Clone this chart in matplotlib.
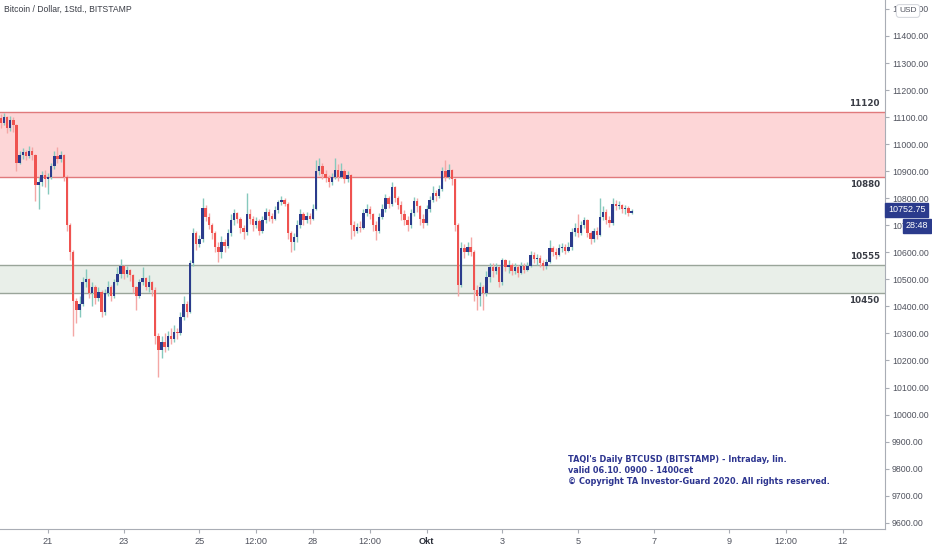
import pandas as pd
import matplotlib
matplotlib.use("Agg")
import matplotlib.pyplot as plt
import matplotlib.dates as mdates
from matplotlib.transforms import blended_transform_factory

# 2-hour candles, BTCUSD Bitstamp
start_time = "2020-09-19 18:00"
first_open = 11095

closes = [11080, 11100, 11060, 11090, 11070, 10930, 10960, 10970, 10955, 10975,
          10960, 10850, 10860, 10885, 10870, 10880, 10920, 10955, 10945, 10960,
          10880, 10700, 10600, 10420, 10385, 10410, 10490, 10500, 10450, 10470,
          10430, 10455, 10380, 10450, 10470, 10440, 10490, 10520, 10550, 10520,
          10535, 10515, 10470, 10440, 10490, 10505, 10470, 10490, 10460, 10290,
          10240, 10270, 10250, 10290, 10280, 10305, 10300, 10360, 10410, 10380,
          10560, 10670, 10630, 10650, 10765, 10730, 10700, 10670, 10620, 10600,
          10640, 10625, 10670, 10720, 10745, 10725, 10690, 10675, 10740, 10725,
          10700, 10715, 10680, 10720, 10750, 10735, 10725, 10755, 10785, 10795,
          10780, 10670, 10640, 10655, 10700, 10740, 10720, 10735, 10725, 10760,
          10900, 10920, 10890, 10875, 10860, 10880, 10905, 10880, 10900, 10870,
          10885, 10700, 10680, 10695, 10690, 10745, 10760, 10740, 10700, 10680,
          10730, 10760, 10800, 10780, 10840, 10800, 10775, 10740, 10720, 10700,
          10745, 10790, 10770, 10725, 10710, 10760, 10795, 10820, 10810, 10835,
          10900, 10880, 10905, 10870, 10700, 10480, 10615, 10600, 10620, 10600,
          10460, 10440, 10470, 10450, 10510, 10545, 10530, 10545, 10490, 10570,
          10545, 10555, 10530, 10545, 10525, 10550, 10535, 10550, 10590, 10575,
          10580, 10560, 10550, 10565, 10615, 10600, 10590, 10615, 10620, 10605,
          10620, 10675, 10690, 10670, 10700, 10720, 10670, 10650, 10680, 10665,
          10730, 10750, 10720, 10710, 10780, 10770, 10775, 10760, 10765, 10745,
          10752.75]

highs = [11110, 11115, 11105, 11105, 11100, 11075, 10975, 10985, 10980, 10995,
         10990, 10965, 10880, 10900, 10905, 10895, 10930, 10975, 10990, 10975,
         10965, 10885, 10710, 10610, 10430, 10440, 10510, 10540, 10505, 10490,
         10480, 10470, 10460, 10465, 10495, 10480, 10500, 10545, 10575, 10555,
         10550, 10540, 10520, 10475, 10500, 10545, 10510, 10515, 10495, 10470,
         10300, 10290, 10300, 10310, 10320, 10330, 10320, 10380, 10440, 10420,
         10570, 10690, 10680, 10665, 10800, 10775, 10745, 10710, 10680, 10640,
         10660, 10650, 10685, 10740, 10760, 10750, 10730, 10700, 10820, 10760,
         10735, 10730, 10725, 10735, 10765, 10760, 10745, 10770, 10795, 10810,
         10800, 10785, 10680, 10670, 10720, 10760, 10750, 10750, 10745, 10780,
         10940, 10950, 10930, 10905, 10885, 10895, 10950, 10925, 10930, 10910,
         10900, 10890, 10715, 10710, 10715, 10760, 10780, 10770, 10745, 10715,
         10745, 10780, 10815, 10810, 10860, 10845, 10810, 10790, 10755, 10735,
         10760, 10805, 10800, 10775, 10740, 10775, 10810, 10845, 10830, 10850,
         10915, 10940, 10925, 10910, 10875, 10710, 10640, 10630, 10640, 10655,
         10610, 10480, 10490, 10480, 10530, 10560, 10560, 10560, 10550, 10580,
         10575, 10570, 10560, 10560, 10555, 10565, 10560, 10565, 10605, 10600,
         10595, 10590, 10570, 10575, 10645, 10625, 10615, 10630, 10635, 10630,
         10640, 10690, 10710, 10740, 10715, 10730, 10725, 10680, 10690, 10695,
         10800, 10770, 10760, 10735, 10800, 10795, 10790, 10780, 10775, 10770,
         10760]

lows = [11060, 11070, 11040, 11050, 11045, 10900, 10925, 10945, 10940, 10950,
        10940, 10790, 10760, 10845, 10840, 10815, 10870, 10910, 10930, 10935,
        10865, 10680, 10570, 10290, 10340, 10360, 10400, 10470, 10430, 10400,
        10410, 10420, 10360, 10370, 10440, 10420, 10430, 10480, 10505, 10500,
        10510, 10495, 10450, 10385, 10430, 10480, 10460, 10455, 10440, 10260,
        10140, 10210, 10230, 10240, 10260, 10270, 10280, 10295, 10350, 10360,
        10375, 10550, 10610, 10620, 10640, 10715, 10685, 10650, 10600, 10565,
        10580, 10600, 10615, 10660, 10700, 10710, 10670, 10650, 10665, 10705,
        10680, 10690, 10665, 10670, 10710, 10715, 10710, 10720, 10745, 10775,
        10770, 10650, 10600, 10610, 10640, 10690, 10700, 10710, 10705, 10720,
        10755, 10885, 10870, 10860, 10840, 10850, 10870, 10865, 10875, 10855,
        10860, 10650, 10660, 10670, 10675, 10685, 10735, 10725, 10680, 10645,
        10670, 10725, 10750, 10765, 10770, 10785, 10760, 10720, 10700, 10680,
        10690, 10735, 10750, 10700, 10690, 10700, 10750, 10785, 10790, 10800,
        10825, 10865, 10870, 10850, 10680, 10440, 10470, 10580, 10590, 10585,
        10420, 10385, 10400, 10385, 10440, 10490, 10510, 10520, 10470, 10480,
        10530, 10525, 10515, 10520, 10510, 10520, 10525, 10530, 10545, 10560,
        10555, 10545, 10535, 10540, 10560, 10585, 10575, 10585, 10600, 10595,
        10600, 10610, 10660, 10655, 10665, 10690, 10655, 10630, 10640, 10650,
        10660, 10720, 10705, 10695, 10700, 10755, 10760, 10745, 10740, 10735,
        10740]

resist_zone = (10880, 11120)
support_zone = (10450, 10555)

price_ticks = list(range(9600, 11600, 100))
date_ticks = ["2020-09-21 00:00", "2020-09-23 00:00", "2020-09-25 00:00", "2020-09-26 12:00",
              "2020-09-28 00:00", "2020-09-29 12:00", "2020-10-01 00:00", "2020-10-03 00:00",
              "2020-10-05 00:00", "2020-10-07 00:00", "2020-10-09 00:00", "2020-10-10 12:00",
              "2020-10-12 00:00"]
date_labels = ["21", "23", "25", "12:00", "28", "12:00", "Okt", "3", "5", "7", "9", "12:00", "12"]

# colours
up_col = "#2b3b8c"
down_col = "#ef5350"
up_wick = "#86c9bd"
down_wick = "#f4a7a5"
axis_col = "#a9adb5"
label_col = "#50535e"

times = pd.date_range(start_time, periods=len(closes), freq="2h")
x = mdates.date2num(times)
opens = [first_open] + closes[:-1]

fig = plt.figure(figsize=(9.32, 5.5), dpi=100)
ax = fig.add_axes([0, 21 / 550, 885 / 932, 529 / 550])

t21 = mdates.date2num(pd.Timestamp("2020-09-21"))
ax.set_xlim(t21 - 48 / 37.85, t21 + 837 / 37.85)
ax.set_ylim(11400 - (529 - 36) * 3.698, 11400 + 36 * 3.698)

# zones
ax.axhspan(resist_zone[0], resist_zone[1], color="#fdd6d7", zorder=0, lw=0)
ax.axhline(resist_zone[0], color="#e07a7c", lw=1, zorder=1)
ax.axhline(resist_zone[1], color="#e07a7c", lw=1, zorder=1)
ax.axhspan(support_zone[0], support_zone[1], color="#e9efe9", zorder=0, lw=0)
ax.axhline(support_zone[0], color="#9aa59a", lw=1, zorder=1)
ax.axhline(support_zone[1], color="#9aa59a", lw=1, zorder=1)

# candles
w = 0.064
for xi, o, h, l, c in zip(x, opens, highs, lows, closes):
    up = c >= o
    ax.vlines(xi, l, h, color=up_wick if up else down_wick, lw=1.0, zorder=2)
    body = max(abs(c - o), 4)
    ax.bar(xi, body, bottom=min(o, c), width=w, color=up_col if up else down_col,
           lw=0, zorder=3)

# zone labels
tr = blended_transform_factory(ax.transAxes, ax.transData)
for val, va in [(11120, "bottom"), (10880, "top"), (10555, "bottom"), (10450, "top")]:
    ax.text(0.994, val + (12 if va == "bottom" else -12), str(val), transform=tr,
            ha="right", va=va, fontsize=6.3, fontweight="bold", color="#3a3d46",
            family="DejaVu Sans")

# axes styling
for s in ["top", "left"]:
    ax.spines[s].set_visible(False)
ax.spines["right"].set_color(axis_col)
ax.spines["bottom"].set_color(axis_col)
ax.yaxis.tick_right()
ax.set_yticks(price_ticks)
ax.set_yticklabels([f"{v:.2f}" for v in price_ticks])
ax.set_xticks(mdates.date2num(pd.to_datetime(date_ticks)))
ax.set_xticklabels(date_labels)
ax.tick_params(axis="y", length=3, width=0.8, color=axis_col, labelsize=6.3,
               labelcolor=label_col, pad=2)
ax.tick_params(axis="x", length=3, width=0.8, color=axis_col, labelsize=6.6,
               labelcolor=label_col, pad=2.5)
for lab in ax.get_yticklabels() + ax.get_xticklabels():
    lab.set_family("Liberation Sans")
ax.get_xticklabels()[6].set_fontweight("bold")
ax.get_xticklabels()[6].set_color("#2a2e39")

# header
fig.text(4 / 932, 1 - 9 / 550, "Bitcoin / Dollar, 1Std., BITSTAMP", fontsize=6.2,
         color="#3a3d46", va="center", ha="left", family="Liberation Sans")

# USD button
fig.text(908 / 932, 1 - 11 / 550, "USD", fontsize=6, color=label_col, ha="center",
         va="center", family="Liberation Sans", zorder=5,
         bbox=dict(boxstyle="round,pad=0.35", fc="white", ec="#d6d8de", lw=0.8))

# last price and countdown
fig.text(888 / 932, 1 - 210 / 550, "10752.75", fontsize=6.5, color="white", ha="left",
         va="center", family="Liberation Sans", zorder=5,
         bbox=dict(boxstyle="square,pad=0.3", fc=up_col, ec=up_col))
fig.text(906 / 932, 1 - 226 / 550, "28:48", fontsize=6.5, color="white", ha="left",
         va="center", family="Liberation Sans", zorder=5,
         bbox=dict(boxstyle="square,pad=0.3", fc=up_col, ec=up_col))

# author note
note = ("TAQI's Daily BTCUSD (BITSTAMP) - Intraday, lin.\n"
        "valid 06.10. 0900 - 1400cet\n"
        "\u00a9 Copyright TA Investor-Guard 2020. All rights reserved.")
fig.text(568 / 932, 1 - 455 / 550, note, fontsize=5.9, color="#2d3590", ha="left",
         va="top", family="DejaVu Sans", fontweight="bold", linespacing=1.32)

fig.savefig("out.png", dpi=100, facecolor="white")
